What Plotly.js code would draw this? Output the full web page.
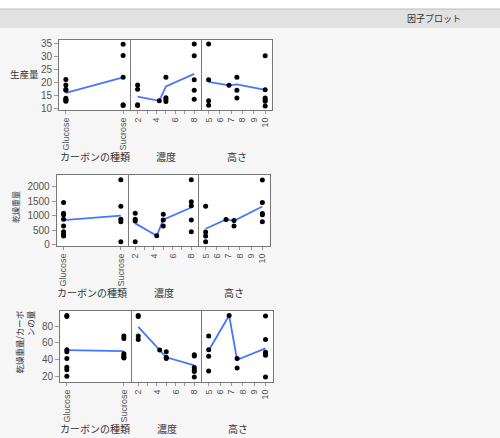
<!DOCTYPE html>
<html>
<head>
<meta charset="utf-8">
<script src="https://cdn.plot.ly/plotly-3.0.1.min.js"></script>
<style>
  html, body { margin: 0; padding: 0; background: #f6f6f6; }
  #chart { width: 500px; height: 438px; }
</style>
</head>
<body>
<div id="chart"></div>
<script>
// ---- factor levels ----
const carbonTypes  = ['Glucose', 'Sucrose'];
const concLevels   = [2, 4.3, 5, 8];
const heightLevels = [5, 6.8, 7.5, 10];

// ---- 生産量 ----
const yieldByCarbon   = [[21.1, 19.0, 17.4, 17.0, 14.0, 13.6, 13.2, 12.8], [34.6, 30.3, 22.0, 11.5, 11.2]];
const yieldCarbonMean = [16.0, 21.9];
const yieldByConc     = [[19.0, 17.4, 11.5, 11.2], [13.0], [22.0, 14.2, 13.6, 12.7], [34.7, 30.2, 21.0, 17.0, 13.6]];
const yieldConcMean   = [14.6, 13.0, 18.5, 23.3];
const yieldByHeight   = [[34.7, 21.0, 13.0, 11.3], [18.9], [22.0, 17.0, 14.1], [30.2, 17.2, 14.1, 13.4, 12.8, 11.0]];
const yieldHeightMean = [20.2, 18.9, 19.3, 17.2];

// ---- 乾燥重量 ----
const dryByCarbon   = [[1460, 1085, 1035, 880, 650, 455, 370, 305], [2235, 1328, 880, 798, 113]];
const dryCarbonMean = [850, 1008];
const dryByConc     = [[1085, 880, 820, 113], [320], [1050, 855, 650], [2240, 1480, 1345, 857, 457]];
const dryConcMean   = [740, 315, 865, 1285];
const dryByHeight   = [[1328, 445, 310, 114], [875], [840, 648], [2230, 1454, 1080, 1034, 795]];
const dryHeightMean = [555, 875, 830, 1318];

// ---- 乾燥重量/カーボンの量 ----
const ratioByCarbon   = [[92.5, 91.3, 52.0, 49.6, 41.4, 31.3, 28.2, 20.5], [68.3, 65.2, 47.3, 44.9, 43.4, 42.2]];
const ratioCarbonMean = [51.4, 50.3];
const ratioByConc     = [[92.5, 91.3, 68.2, 64.0], [51.5], [49.5, 43.0, 41.5], [46.0, 44.5, 31.0, 28.0, 26.0, 19.5]];
const ratioConcMean   = [79.0, 51.5, 43.0, 33.5];
const ratioByHeight   = [[68.3, 52.0, 44.2, 26.6], [92.5], [41.4, 30.2], [91.8, 64.0, 49.0, 47.3, 45.5, 19.5]];
const ratioHeightMean = [51.0, 92.5, 40.0, 53.6];

// ---- tick labels / titles ----
const responseTitles = ['生産量', '乾燥重量', '乾燥重量/カーボ<br>ンの量'];
const factorTitles   = ['カーボンの種類', '濃度', '高さ'];
const yTicks = [[10, 15, 20, 25, 30, 35], [0, 500, 1000, 1500, 2000], [20, 40, 60, 80]];

// ---- page geometry (pixels) ----
const W = 500, H = 438;
const px = v => v / W;
const py = v => 1 - v / H;

const rowBoxes = [
  { top: 40,  bottom: 110, yRange: [9.5, 36.2],  cols: [[59, 130], [131, 201.3], [202.3, 272.3]], titleY: 156 },
  { top: 175, bottom: 246, yRange: [-35, 2400],  cols: [[56.7, 127.7], [128.7, 198.3], [199.3, 269.5]], titleY: 292 },
  { top: 311, bottom: 382, yRange: [13.7, 97.8], cols: [[60, 130.7], [131.7, 201.3], [202.3, 272.7]], titleY: 428 }
];

const levelSets = [carbonTypes, concLevels, heightLevels];
const groups = [
  [[yieldByCarbon, yieldCarbonMean], [yieldByConc, yieldConcMean], [yieldByHeight, yieldHeightMean]],
  [[dryByCarbon, dryCarbonMean],     [dryByConc, dryConcMean],     [dryByHeight, dryHeightMean]],
  [[ratioByCarbon, ratioCarbonMean], [ratioByConc, ratioConcMean], [ratioByHeight, ratioHeightMean]]
];

const LINE_BLUE = 'rgb(70,118,255)';
const FRAME = '#777777';
const Y_TICK_FONT = { family: 'Liberation Sans, Arial, sans-serif', size: 10, color: '#555' };
const X_TICK_FONT = { family: 'Liberation Sans, Arial, sans-serif', size: 9, color: '#555' };
const CJK = 'Noto Sans CJK JP, sans-serif';

const traces = [];
const layout = {
  width: W, height: H,
  margin: { l: 0, r: 0, t: 0, b: 0 },
  paper_bgcolor: '#f6f6f6',
  plot_bgcolor: '#ffffff',
  showlegend: false,
  font: { family: CJK, size: 10, color: '#333' },
  shapes: [
    { type: 'rect', xref: 'paper', yref: 'paper', x0: 0, x1: 1, y0: py(9), y1: 1, fillcolor: '#ffffff', line: { width: 0 }, layer: 'below' },
    { type: 'rect', xref: 'paper', yref: 'paper', x0: 0, x1: 1, y0: py(28), y1: py(9), fillcolor: '#e1e1e1', line: { width: 0 }, layer: 'below' },
    { type: 'line', xref: 'paper', yref: 'paper', x0: 0, x1: 1, y0: py(9), y1: py(9), line: { color: '#bcbcbc', width: 1 } }
  ],
  annotations: [
    { text: '因子プロット', xref: 'paper', yref: 'paper', x: px(463), y: py(18.5), xanchor: 'right', yanchor: 'middle',
      showarrow: false, font: { family: CJK, size: 9, color: '#333' } }
  ]
};

const xAxisBase = [
  { type: 'category', range: [-0.12, 1.12], tickmode: 'array', tickvals: carbonTypes },
  { range: [1.3, 8.75], tickmode: 'linear', tick0: 2, dtick: 2,
    minor: { tickmode: 'linear', tick0: 2, dtick: 1, ticks: 'outside', ticklen: 3, tickcolor: '#999' } },
  { range: [4.44, 10.63], tickmode: 'linear', tick0: 5, dtick: 1 }
];

rowBoxes.forEach((row, r) => {
  for (let c = 0; c < 3; c++) {
    const idx = r * 3 + c + 1;
    const xs = idx === 1 ? 'x' : 'x' + idx;
    const ys = idx === 1 ? 'y' : 'y' + idx;
    const levels = levelSets[c];
    const [pts, means] = groups[r][c];

    // level means joined by a line
    traces.push({ type: 'scatter', mode: 'lines', x: levels, y: means, xaxis: xs, yaxis: ys,
      line: { color: LINE_BLUE, width: 1.8 }, hoverinfo: 'skip' });

    // individual observations
    const ox = [], oy = [];
    pts.forEach((g, i) => g.forEach(v => { ox.push(levels[i]); oy.push(v); }));
    traces.push({ type: 'scatter', mode: 'markers', x: ox, y: oy, xaxis: xs, yaxis: ys,
      marker: { color: '#000', size: 5 } });

    layout['xaxis' + (idx === 1 ? '' : idx)] = Object.assign({
      domain: [px(row.cols[c][0]), px(row.cols[c][1])],
      anchor: ys,
      showgrid: false, zeroline: false,
      showline: true, mirror: true, linecolor: FRAME, linewidth: 1,
      ticks: 'outside', ticklen: 3, tickcolor: '#999',
      tickangle: -90, tickfont: X_TICK_FONT, fixedrange: true
    }, xAxisBase[c]);

    layout['yaxis' + (idx === 1 ? '' : idx)] = {
      domain: [py(row.bottom), py(row.top)],
      anchor: xs,
      range: row.yRange,
      tickmode: 'array', tickvals: yTicks[r],
      showticklabels: c === 0,
      ticks: c === 0 ? 'outside' : '', ticklen: 4, tickcolor: '#999',
      showgrid: false, zeroline: false,
      showline: true, mirror: true, linecolor: FRAME, linewidth: 1,
      tickfont: Y_TICK_FONT, fixedrange: true
    };

    // factor name under each panel
    layout.annotations.push({
      text: factorTitles[c], xref: 'paper', yref: 'paper',
      x: px((row.cols[c][0] + row.cols[c][1]) / 2), y: py(row.titleY),
      xanchor: 'center', yanchor: 'middle', showarrow: false,
      font: { family: CJK, size: 10, color: '#333' }
    });
  }
});

// response names on the left
layout.annotations.push(
  { text: responseTitles[0], xref: 'paper', yref: 'paper', x: px(24), y: py(74), xanchor: 'center', yanchor: 'middle',
    showarrow: false, font: { family: CJK, size: 9.5, color: '#333' } },
  { text: responseTitles[1], xref: 'paper', yref: 'paper', x: px(15), y: py(207), xanchor: 'center', yanchor: 'middle',
    textangle: -90, showarrow: false, font: { family: CJK, size: 8, color: '#333' } },
  { text: responseTitles[2], xref: 'paper', yref: 'paper', x: px(23.5), y: py(342), xanchor: 'center', yanchor: 'middle',
    textangle: -90, align: 'right', showarrow: false, font: { family: CJK, size: 8.5, color: '#333' } }
);

Plotly.newPlot('chart', traces, layout, { displayModeBar: false, staticPlot: true });
</script>
</body>
</html>
